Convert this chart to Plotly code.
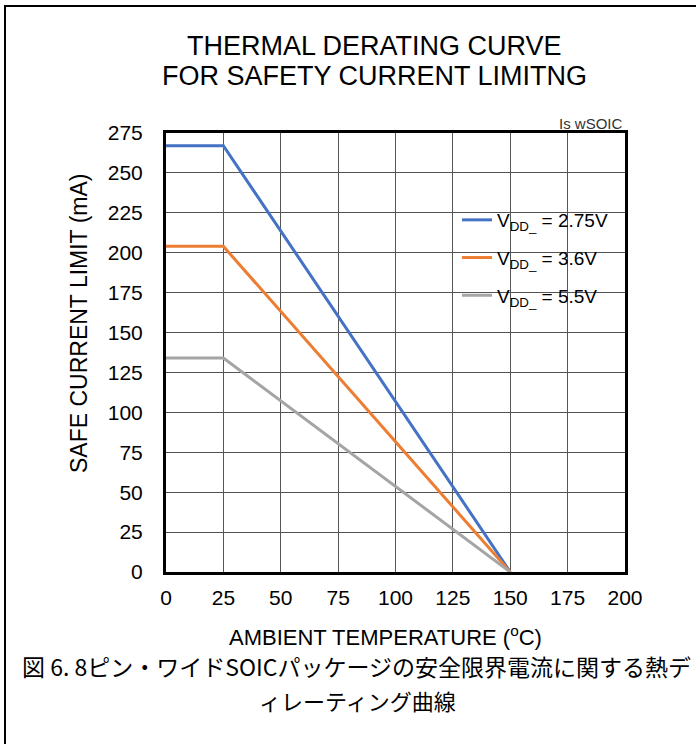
import plotly.graph_objects as go

temps = [0, 25, 150]
i_275 = [267, 267, 0]
i_36 = [204, 204, 0]
i_55 = [134, 134, 0]
series_names = ["V<sub>DD_</sub> = 2.75V", "V<sub>DD_</sub> = 3.6V", "V<sub>DD_</sub> = 5.5V"]
colors = ["#4472C4", "#ED7D31", "#A5A5A5"]
x_ticks = [0, 25, 50, 75, 100, 125, 150, 175, 200]
y_ticks = [0, 25, 50, 75, 100, 125, 150, 175, 200, 225, 250, 275]

FONT = "Liberation Sans, Arial, sans-serif"
JP = "Noto Sans CJK JP, sans-serif"

fig = go.Figure()
for i, (vals, name, col) in enumerate(zip([i_275, i_36, i_55], series_names, colors)):
    fig.add_trace(go.Scatter(x=temps, y=vals, mode="lines", name=name,
                             legendgroup=str(i),
                             line=dict(color=col, width=3)))

W, H = 696, 744
L, R, T, B = 166, 71, 133, 172
pw, ph = W - L - R, H - T - B

def px(x):
    return (x - L) / pw

def py(y):
    return (H - B - y) / ph

fig.update_layout(
    width=W, height=H,
    margin=dict(l=L, r=R, t=T, b=B),
    paper_bgcolor="white", plot_bgcolor="white",
    font=dict(family=FONT, color="black", size=21),
    showlegend=True,
    legend=dict(x=px(457), y=py(201), xanchor="left", yanchor="top",
                bgcolor="rgba(255,255,255,0)", font=dict(size=19, family=FONT),
                tracegroupgap=10, itemwidth=30),
    xaxis=dict(range=[0, 200], tickvals=x_ticks, showgrid=True, gridcolor="#555555", gridwidth=1,
               showline=True, linecolor="black", linewidth=3, mirror=True, ticks="",
               zeroline=False, ticklabelstandoff=5, tickfont=dict(size=21)),
    yaxis=dict(range=[0, 275], tickvals=y_ticks, showgrid=True, gridcolor="#555555", gridwidth=1,
               showline=True, linecolor="black", linewidth=3, mirror=True, ticks="",
               zeroline=False, ticklabelstandoff=16, tickfont=dict(size=21)),
)

ann = [
    dict(text="THERMAL DERATING CURVE", x=px(374), y=py(46), font=dict(size=27, family=FONT)),
    dict(text="FOR SAFETY CURRENT LIMITNG", x=px(374), y=py(76), font=dict(size=27, family=FONT)),
    dict(text="Is wSOIC", x=px(591), y=py(124), font=dict(size=15, family=FONT, color="#333333")),
    dict(text="SAFE CURRENT LIMIT (mA)", x=px(79), y=py(324), textangle=-90,
         font=dict(size=23, family=FONT)),
    dict(text="AMBIENT TEMPERATURE (<sup>o</sup>C)", x=px(385), y=py(636),
         font=dict(size=22, family=FONT)),
    dict(text="図 6. 8ピン・ワイドSOICパッケージの安全限界電流に関する熱デ",
         x=px(356), y=py(666), font=dict(size=23, family=JP)),
    dict(text="ィレーティング曲線", x=px(357), y=py(699.5), font=dict(size=22, family=JP)),
]
for a in ann:
    fig.add_annotation(xref="paper", yref="paper", showarrow=False,
                       xanchor="center", yanchor="middle", **a)

# page frame (top and left rule)
fig.add_shape(type="line", xref="paper", yref="paper", x0=px(4), x1=px(696), y0=py(6), y1=py(6),
              line=dict(color="black", width=2))
fig.add_shape(type="line", xref="paper", yref="paper", x0=px(5), x1=px(5), y0=py(6), y1=py(744),
              line=dict(color="black", width=2))

fig.write_html("out.html")
